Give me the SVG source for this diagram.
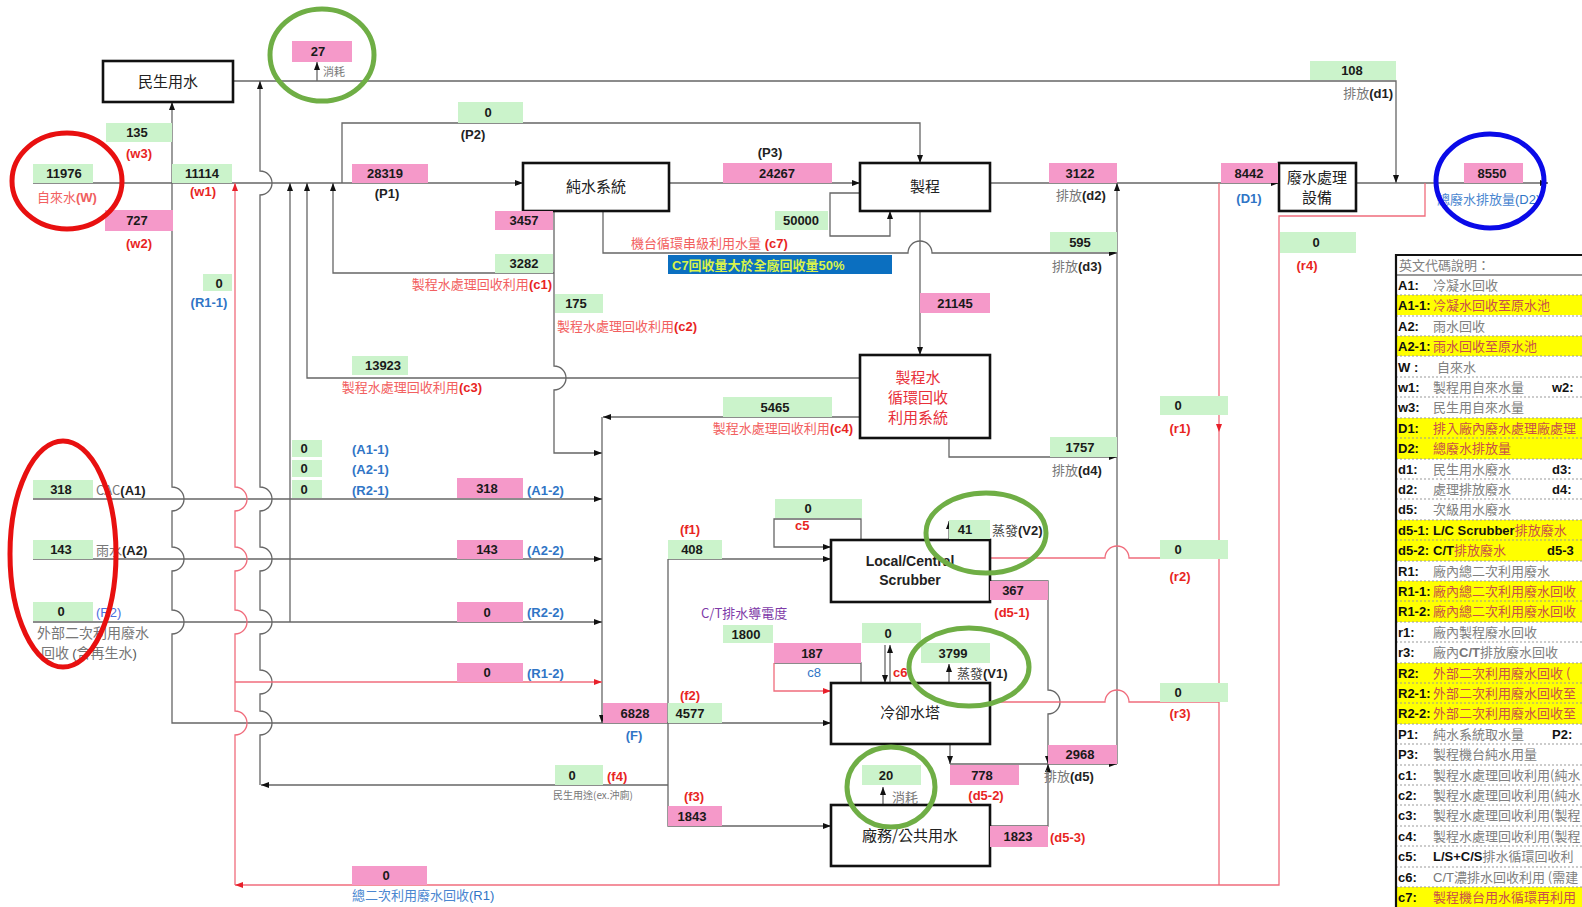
<svg xmlns="http://www.w3.org/2000/svg" width="1582" height="907" viewBox="0 0 1582 907">
<style>
.box{fill:#fff;stroke:#111;stroke-width:2.6}
.g{fill:#CBF3CB}
.p{fill:#F599C9}
.ln{fill:none;stroke:#666;stroke-width:1.3}
.rl{fill:none;stroke:#F06C7C;stroke-width:1.3}
.num{font:bold 13px "Liberation Sans",Arial,sans-serif;fill:#1a1a1a;text-anchor:middle}
.lr{font:bold 13px "Liberation Sans",Arial,sans-serif;fill:#E8251F}
.lb{font:bold 13px "Liberation Sans",Arial,sans-serif;fill:#2F75C6}
.lk{font:bold 13px "Liberation Sans",Arial,sans-serif;fill:#222}
.cj{font:13px "Noto Sans CJK TC",sans-serif;fill:#777}
.cr{font:13px "Noto Sans CJK TC",sans-serif;fill:#F26060}
.cb{font:13px "Noto Sans CJK TC",sans-serif;fill:#4A86D0}
.nt{font:15px "Noto Sans CJK TC",sans-serif;fill:#222;text-anchor:middle}
.ntr{font:15px "Noto Sans CJK TC",sans-serif;fill:#E8303A;text-anchor:middle}
.ntb{font:bold 14px "Liberation Sans",Arial,sans-serif;fill:#222;text-anchor:middle}
.mid{text-anchor:middle}
.end{text-anchor:end}
.lc{font:bold 13px "Liberation Sans",Arial,sans-serif;fill:#111}
.ld{font:13px "Noto Sans CJK TC",sans-serif;fill:#808080}
.ly{font:13px "Noto Sans CJK TC",sans-serif;fill:#C8504A}
.ring{fill:none;stroke-width:5}
</style>
<defs>
<marker id="ah" viewBox="0 0 8 7" refX="8" refY="3.5" markerWidth="8" markerHeight="7" markerUnits="userSpaceOnUse" orient="auto-start-reverse"><path d="M0,0.5 L8,3.5 L0,6.5z" fill="#111"/></marker>
<marker id="ahr" viewBox="0 0 8 7" refX="8" refY="3.5" markerWidth="8" markerHeight="7" markerUnits="userSpaceOnUse" orient="auto-start-reverse"><path d="M0,0.5 L8,3.5 L0,6.5z" fill="#E8202A"/></marker>
</defs>
<rect width="1582" height="907" fill="#fff"/>

<g id="connectors">
<path class="ln" d="M233,81 H1396 V183" marker-end="url(#ah)"/>
<path class="ln" d="M317,81 V62" marker-end="url(#ah)"/>
<path class="ln" d="M33,183 H523" marker-end="url(#ah)"/>
<path class="ln" d="M172,183 V102" marker-end="url(#ah)"/>
<path class="ln" d="M172,183 V487 A12,12 0 0 1 172,511 V547 A12,12 0 0 1 172,571 V610 A12,12 0 0 1 172,634 V723 H831" marker-end="url(#ah)"/>
<path class="ln" d="M260,81 V171 A12,12 0 0 1 260,195 V487 A12,12 0 0 1 260,511 V547 A12,12 0 0 1 260,571 V610 A12,12 0 0 1 260,634 V670 A12,12 0 0 1 260,694 V711 A12,12 0 0 1 260,735 V785" marker-start="url(#ah)"/>
<path class="ln" d="M668,785 H261" marker-end="url(#ah)"/>
<path class="ln" d="M290,183 V622" marker-start="url(#ah)"/>
<path class="ln" d="M307,183 V378 H860" marker-start="url(#ah)"/>
<path class="ln" d="M333,183 V273 H554" marker-start="url(#ah)"/>
<path class="ln" d="M342,183 V123 H920 V163" marker-end="url(#ah)"/>
<path class="ln" d="M554,211 V366 A12,12 0 0 1 554,390 V453 H602" marker-end="url(#ah)"/>
<path class="ln" d="M669,183 H860" marker-end="url(#ah)"/>
<path class="ln" d="M860,193 H830 V236 H890 V211" marker-end="url(#ah)"/>
<path class="ln" d="M603,211 V253 H908 A12,12 0 0 1 932,253 H1117" marker-end="url(#ah)"/>
<path class="ln" d="M920,211 V355" marker-end="url(#ah)"/>
<path class="ln" d="M860,417 H603" marker-end="url(#ah)"/>
<path class="ln" d="M602,417 V723" marker-end="url(#ah)"/>
<path class="ln" d="M33,499 H602" marker-end="url(#ah)"/>
<path class="ln" d="M33,559 H602" marker-end="url(#ah)"/>
<path class="ln" d="M33,622 H602" marker-end="url(#ah)"/>
<path class="rl" d="M235,682 H602" marker-end="url(#ahr)"/>
<path class="rl" d="M235,183 V487 A12,12 0 0 1 235,511 V547 A12,12 0 0 1 235,571 V610 A12,12 0 0 1 235,634 V711 A12,12 0 0 1 235,735 V885" marker-start="url(#ahr)"/>
<path class="rl" d="M1219,885 H235" marker-end="url(#ahr)"/>
<path class="ln" d="M990,183 H1279" marker-end="url(#ah)"/>
<path class="ln" d="M1356,183 H1548" marker-end="url(#ah)"/>
<path class="ln" d="M1117,183 V764" marker-start="url(#ah)"/>
<path class="ln" d="M949,438 V457 H1117" marker-end="url(#ah)"/>
<path class="ln" d="M950,744 V764" marker-end="url(#ah)"/>
<path class="ln" d="M950,764 H1117" marker-end="url(#ah)"/>
<path class="ln" d="M990,581 H1048 V690 A12,12 0 0 1 1048,714 V764" marker-end="url(#ah)"/>
<path class="ln" d="M990,826 H1048 V764" marker-end="url(#ah)"/>
<path class="ln" d="M668,559 H831" marker-end="url(#ah)"/>
<path class="ln" d="M668,559 V826 H831" marker-end="url(#ah)"/>
<path class="ln" d="M861,540 V519 H774 V547 H831" marker-end="url(#ah)"/>
<path class="ln" d="M861,683 V663 H774"/>
<path class="rl" d="M774,663 V691 H831" marker-end="url(#ahr)"/>
<path class="ln" d="M885,645 V683" marker-end="url(#ah)"/>
<path class="ln" d="M890,683 V645" marker-end="url(#ah)"/>
<path class="ln" d="M949,683 V664" marker-end="url(#ah)"/>
<path class="ln" d="M949,540 V521" marker-end="url(#ah)"/>
<path class="ln" d="M883,805 V787" marker-end="url(#ah)"/>
<path class="rl" d="M990,558 H1105 A12,12 0 0 1 1129,558 H1219"/>
<path class="rl" d="M990,702 H1105 A12,12 0 0 1 1129,702 H1219"/>
<path class="rl" d="M1219,183 V432" marker-end="url(#ahr)"/>
<path class="rl" d="M1219,432 V885"/>
<path class="rl" d="M1425,183 V216 H1279 V885 H1219"/>
</g>

<g id="n-minsheng"><rect class="box" x="103" y="61" width="130" height="41"/><text class="nt" x="168" y="87">民生用水</text></g>
<g id="n-pure"><rect class="box" x="523" y="163" width="146" height="48"/><text class="nt" x="596" y="192">純水系統</text></g>
<g id="n-process"><rect class="box" x="860" y="163" width="130" height="48"/><text class="nt" x="925" y="192">製程</text></g>
<g id="n-recycle"><rect class="box" x="860" y="355" width="130" height="83"/><text class="ntr" x="918" y="383">製程水</text><text class="ntr" x="918" y="403">循環回收</text><text class="ntr" x="918" y="423">利用系統</text></g>
<g id="n-scrubber"><rect class="box" x="831" y="540" width="159" height="62"/><text class="ntb" x="910" y="566">Local/Central</text><text class="ntb" x="910" y="585">Scrubber</text></g>
<g id="n-tower"><rect class="box" x="831" y="683" width="159" height="61"/><text class="nt" x="910" y="718">冷卻水塔</text></g>
<g id="n-facility"><rect class="box" x="831" y="805" width="159" height="61"/><text class="nt" x="910" y="841">廠務/公共用水</text></g>
<g id="n-wwt"><rect class="box" x="1279" y="163" width="77" height="48"/><text class="nt" x="1317" y="183">廢水處理</text><text class="nt" x="1317" y="203">設備</text></g>

<g id="values">
<rect class="p" x="292" y="41" width="60" height="21"/><text class="num" x="318" y="56">27</text>
<rect class="p" x="105" y="210" width="68" height="21"/><text class="num" x="137" y="225">727</text>
<rect class="p" x="352" y="164" width="76" height="19"/><text class="num" x="385" y="178">28319</text>
<rect class="p" x="495" y="211" width="58" height="19"/><text class="num" x="524" y="225">3457</text>
<rect class="p" x="723" y="163" width="109" height="20"/><text class="num" x="777" y="178">24267</text>
<rect class="p" x="1049" y="163" width="68" height="20"/><text class="num" x="1080" y="178">3122</text>
<rect class="p" x="920" y="293" width="70" height="20"/><text class="num" x="955" y="308">21145</text>
<rect class="p" x="457" y="478" width="66" height="20"/><text class="num" x="487" y="493">318</text>
<rect class="p" x="457" y="540" width="66" height="19"/><text class="num" x="487" y="554">143</text>
<rect class="p" x="457" y="602" width="66" height="20"/><text class="num" x="487" y="617">0</text>
<rect class="p" x="457" y="663" width="66" height="19"/><text class="num" x="487" y="677">0</text>
<rect class="p" x="990" y="581" width="58" height="19"/><text class="num" x="1013" y="595">367</text>
<rect class="p" x="774" y="643" width="87" height="20"/><text class="num" x="812" y="658">187</text>
<rect class="p" x="603" y="703" width="64" height="20"/><text class="num" x="635" y="718">6828</text>
<rect class="p" x="668" y="806" width="54" height="20"/><text class="num" x="692" y="821">1843</text>
<rect class="p" x="950" y="765" width="69" height="20"/><text class="num" x="982" y="780">778</text>
<rect class="p" x="1048" y="745" width="69" height="19"/><text class="num" x="1080" y="759">2968</text>
<rect class="p" x="990" y="826" width="58" height="21"/><text class="num" x="1018" y="841">1823</text>
<rect class="p" x="352" y="866" width="75" height="19"/><text class="num" x="386" y="880">0</text>
<rect class="p" x="1221" y="163" width="57" height="20"/><text class="num" x="1249" y="178">8442</text>
<rect class="p" x="1464" y="163" width="59" height="20"/><text class="num" x="1492" y="178">8550</text>

<rect class="g" x="106" y="123" width="66" height="19"/><text class="num" x="137" y="137">135</text>
<rect class="g" x="33" y="164" width="60" height="19"/><text class="num" x="64" y="178">11976</text>
<rect class="g" x="172" y="164" width="60" height="19"/><text class="num" x="202" y="178">11114</text>
<rect class="g" x="203" y="274" width="29" height="17"/><text class="num" x="219" y="288">0</text>
<rect class="g" x="458" y="102" width="65" height="21"/><text class="num" x="488" y="117">0</text>
<rect class="g" x="495" y="254" width="58" height="19"/><text class="num" x="524" y="268">3282</text>
<rect class="g" x="555" y="294" width="48" height="19"/><text class="num" x="576" y="308">175</text>
<rect class="g" x="352" y="356" width="56" height="19"/><text class="num" x="383" y="370">13923</text>
<rect class="g" x="775" y="211" width="53" height="19"/><text class="num" x="801" y="225">50000</text>
<rect class="g" x="1050" y="232" width="67" height="20"/><text class="num" x="1080" y="247">595</text>
<rect class="g" x="723" y="397" width="109" height="20"/><text class="num" x="775" y="412">5465</text>
<rect class="g" x="1050" y="437" width="67" height="20"/><text class="num" x="1080" y="452">1757</text>
<rect class="g" x="292" y="440" width="30" height="17"/><text class="num" x="304" y="453">0</text>
<rect class="g" x="292" y="460" width="30" height="17"/><text class="num" x="304" y="473">0</text>
<rect class="g" x="292" y="480" width="30" height="18"/><text class="num" x="304" y="494">0</text>
<rect class="g" x="33" y="480" width="60" height="18"/><text class="num" x="61" y="494">318</text>
<rect class="g" x="33" y="540" width="60" height="19"/><text class="num" x="61" y="554">143</text>
<rect class="g" x="33" y="602" width="60" height="19"/><text class="num" x="61" y="616">0</text>
<rect class="g" x="775" y="499" width="87" height="19"/><text class="num" x="808" y="513">0</text>
<rect class="g" x="668" y="540" width="54" height="19"/><text class="num" x="692" y="554">408</text>
<rect class="g" x="949" y="520" width="41" height="19"/><text class="num" x="965" y="534">41</text>
<rect class="g" x="1160" y="396" width="68" height="19"/><text class="num" x="1178" y="410">0</text>
<rect class="g" x="1160" y="540" width="68" height="19"/><text class="num" x="1178" y="554">0</text>
<rect class="g" x="1160" y="683" width="68" height="19"/><text class="num" x="1178" y="697">0</text>
<rect class="g" x="1280" y="232" width="76" height="21"/><text class="num" x="1316" y="247">0</text>
<rect class="g" x="723" y="625" width="50" height="18"/><text class="num" x="746" y="639">1800</text>
<rect class="g" x="862" y="623" width="59" height="20"/><text class="num" x="888" y="638">0</text>
<rect class="g" x="921" y="643" width="69" height="20"/><text class="num" x="953" y="658">3799</text>
<rect class="g" x="668" y="703" width="54" height="20"/><text class="num" x="690" y="718">4577</text>
<rect class="g" x="555" y="765" width="48" height="20"/><text class="num" x="572" y="780">0</text>
<rect class="g" x="862" y="765" width="59" height="20"/><text class="num" x="886" y="780">20</text>
<rect class="g" x="1310" y="61" width="86" height="19"/><text class="num" x="1352" y="75">108</text>
</g>

<g id="labels">
<text class="cj" x="323" y="76" style="font-size:11px">消耗</text>
<text class="lr mid" x="139" y="158">(w3)</text>
<text x="37" y="202"><tspan class="cr">自來水</tspan><tspan class="lr" style="fill:#F06060">(W)</tspan></text>
<text class="lr mid" x="203" y="196">(w1)</text>
<text class="lr mid" x="139" y="248">(w2)</text>
<text class="lb mid" x="209" y="307">(R1-1)</text>
<text class="lk mid" x="387" y="198">(P1)</text>
<text class="lk mid" x="473" y="139">(P2)</text>
<text class="lk mid" x="770" y="157">(P3)</text>
<text x="1056" y="200"><tspan class="cj">排放</tspan><tspan class="lk">(d2)</tspan></text>
<text x="1052" y="271"><tspan class="cj">排放</tspan><tspan class="lk">(d3)</tspan></text>
<text x="1052" y="475"><tspan class="cj">排放</tspan><tspan class="lk">(d4)</tspan></text>
<text x="1044" y="781"><tspan class="cj">排放</tspan><tspan class="lk">(d5)</tspan></text>
<text class="end" x="1393" y="98"><tspan class="cj">排放</tspan><tspan class="lk">(d1)</tspan></text>
<text class="lb mid" x="1249" y="203">(D1)</text>
<text x="1437" y="204"><tspan class="cb">總廢水排放量</tspan><tspan class="lb" style="font-weight:normal">(D2)</tspan></text>
<text class="end" x="552" y="289"><tspan class="cr">製程水處理回收利用</tspan><tspan class="lr">(c1)</tspan></text>
<text x="557" y="331"><tspan class="cr">製程水處理回收利用</tspan><tspan class="lr">(c2)</tspan></text>
<text class="end" x="482" y="392"><tspan class="cr">製程水處理回收利用</tspan><tspan class="lr">(c3)</tspan></text>
<text class="end" x="853" y="433"><tspan class="cr">製程水處理回收利用</tspan><tspan class="lr">(c4)</tspan></text>
<text x="631" y="248"><tspan class="cr">機台循環串級利用水量</tspan><tspan class="lr"> (c7)</tspan></text>
<rect x="668" y="255" width="224" height="19" fill="#0B6FC0"/>
<text x="672" y="270" style="font:bold 13px 'Liberation Sans','Noto Sans CJK TC',sans-serif;fill:#D8F24A">C7回收量大於全廠回收量50%</text>
<text class="lb" x="352" y="454">(A1-1)</text>
<text class="lb" x="352" y="474">(A2-1)</text>
<text class="lb" x="352" y="495">(R2-1)</text>
<text x="96" y="495"><tspan class="cj">CAC</tspan><tspan class="lk">(A1)</tspan></text>
<text x="96" y="555"><tspan class="cj">雨水</tspan><tspan class="lk">(A2)</tspan></text>
<text class="lb" x="96" y="617" style="fill:#4A6FE0;font-weight:normal">(R2)</text>
<text class="cj" x="37" y="638" style="font-size:14px">外部二次利用廢水</text>
<text x="41" y="658"><tspan class="cj" style="font-size:14px">回收 </tspan><tspan class="lk" style="font-weight:normal;fill:#555">(</tspan><tspan class="cj" style="font-size:14px">含再生水</tspan><tspan class="lk" style="font-weight:normal;fill:#555">)</tspan></text>
<text class="lb" x="527" y="495">(A1-2)</text>
<text class="lb" x="527" y="555">(A2-2)</text>
<text class="lb" x="527" y="617">(R2-2)</text>
<text class="lb" x="527" y="678">(R1-2)</text>
<text class="lr mid" x="690" y="534">(f1)</text>
<text class="lr" x="795" y="530">c5</text>
<text x="992" y="535"><tspan class="cj" style="fill:#444">蒸發</tspan><tspan class="lk">(V2)</tspan></text>
<text class="lr mid" x="1012" y="617">(d5-1)</text>
<text class="lr mid" x="1180" y="433">(r1)</text>
<text class="lr mid" x="1180" y="581">(r2)</text>
<text class="lr mid" x="1180" y="718">(r3)</text>
<text class="lr mid" x="1307" y="270">(r4)</text>
<text x="701" y="618"><tspan class="cj" style="fill:#7E3AA8">C/T排水導電度</tspan></text>
<text class="lb mid" x="814" y="677" style="font-weight:normal">c8</text>
<text class="lr" x="893" y="677">c6</text>
<text x="957" y="678"><tspan class="cj" style="fill:#444">蒸發</tspan><tspan class="lk">(V1)</tspan></text>
<text class="lr mid" x="690" y="700">(f2)</text>
<text class="lb mid" x="634" y="740">(F)</text>
<text class="lr" x="607" y="781">(f4)</text>
<text class="cj" x="553" y="799" style="font-size:10px">民生用途(ex.沖廁)</text>
<text class="lr mid" x="694" y="801">(f3)</text>
<text class="cj" x="892" y="802">消耗</text>
<text class="lr mid" x="986" y="800">(d5-2)</text>
<text class="lr" x="1050" y="842">(d5-3)</text>
<text x="352" y="900"><tspan class="cb">總二次利用廢水回收</tspan><tspan class="lb" style="font-weight:normal">(R1)</tspan></text>
</g>

<g id="legend">
<rect x="1396" y="295" width="186" height="20" fill="#FFFF00"/>
<rect x="1396" y="336" width="186" height="20" fill="#FFFF00"/>
<rect x="1396" y="418" width="186" height="41" fill="#FFFF00"/>
<rect x="1396" y="520" width="186" height="41" fill="#FFFF00"/>
<rect x="1396" y="581" width="186" height="41" fill="#FFFF00"/>
<rect x="1396" y="663" width="186" height="61" fill="#FFFF00"/>
<rect x="1396" y="887" width="186" height="20" fill="#FFFF00"/>
<g stroke="#999" stroke-width="1" stroke-dasharray="2,2">
<path d="M1396,295H1582M1396,316H1582M1396,336H1582M1396,356H1582M1396,377H1582M1396,397H1582M1396,418H1582M1396,438H1582M1396,459H1582M1396,479H1582M1396,499H1582M1396,520H1582M1396,540H1582M1396,561H1582M1396,581H1582M1396,601H1582M1396,622H1582M1396,642H1582M1396,663H1582M1396,683H1582M1396,703H1582M1396,724H1582M1396,744H1582M1396,765H1582M1396,785H1582M1396,805H1582M1396,826H1582M1396,846H1582M1396,867H1582M1396,887H1582"/>
</g>
<path d="M1396,275H1582" stroke="#333" stroke-width="1"/>
<path d="M1396,907V255H1582" fill="none" stroke="#111" stroke-width="2.2"/>
<text class="ld" x="1399" y="270">英文代碼說明：</text>
<text class="lc" x="1398" y="290">A1:</text><text class="ld" x="1433" y="290">冷凝水回收</text>
<text class="lc" x="1398" y="310">A1-1:</text><text class="ly" x="1433" y="310">冷凝水回收至原水池</text>
<text class="lc" x="1398" y="331">A2:</text><text class="ld" x="1433" y="331">雨水回收</text>
<text class="lc" x="1398" y="351">A2-1:</text><text class="ly" x="1433" y="351">雨水回收至原水池</text>
<text class="lc" x="1398" y="372">W :</text><text class="ld" x="1437" y="372">自來水</text>
<text class="lc" x="1398" y="392">w1:</text><text class="ld" x="1433" y="392">製程用自來水量</text><text class="lc" x="1552" y="392">w2:</text>
<text class="lc" x="1398" y="412">w3:</text><text class="ld" x="1433" y="412">民生用自來水量</text>
<text class="lc" x="1398" y="433">D1:</text><text class="ly" x="1433" y="433">排入廠內廢水處理廠處理</text>
<text class="lc" x="1398" y="453">D2:</text><text class="ly" x="1433" y="453">總廢水排放量</text>
<text class="lc" x="1398" y="474">d1:</text><text class="ld" x="1433" y="474">民生用水廢水</text><text class="lc" x="1552" y="474">d3:</text>
<text class="lc" x="1398" y="494">d2:</text><text class="ld" x="1433" y="494">處理排放廢水</text><text class="lc" x="1552" y="494">d4:</text>
<text class="lc" x="1398" y="514">d5:</text><text class="ld" x="1433" y="514">次級用水廢水</text>
<text class="lc" x="1398" y="535">d5-1:</text><text x="1433" y="535"><tspan class="lc">L/C Scrubber</tspan><tspan class="ly">排放廢水</tspan></text>
<text class="lc" x="1398" y="555">d5-2:</text><text x="1433" y="555"><tspan class="lc">C/T</tspan><tspan class="ly">排放廢水</tspan></text><text class="lc" x="1547" y="555">d5-3</text>
<text class="lc" x="1398" y="576">R1:</text><text class="ld" x="1433" y="576">廠內總二次利用廢水</text>
<text class="lc" x="1398" y="596">R1-1:</text><text class="ly" x="1433" y="596">廠內總二次利用廢水回收</text>
<text class="lc" x="1398" y="616">R1-2:</text><text class="ly" x="1433" y="616">廠內總二次利用廢水回收</text>
<text class="lc" x="1398" y="637">r1:</text><text class="ld" x="1433" y="637">廠內製程廢水回收</text>
<text class="lc" x="1398" y="657">r3:</text><text x="1433" y="657"><tspan class="ld">廠內</tspan><tspan class="lc" style="fill:#777">C/T</tspan><tspan class="ld">排放廢水回收</tspan></text>
<text class="lc" x="1398" y="678">R2:</text><text class="ly" x="1433" y="678">外部二次利用廢水回收 (</text>
<text class="lc" x="1398" y="698">R2-1:</text><text class="ly" x="1433" y="698">外部二次利用廢水回收至</text>
<text class="lc" x="1398" y="718">R2-2:</text><text class="ly" x="1433" y="718">外部二次利用廢水回收至</text>
<text class="lc" x="1398" y="739">P1:</text><text class="ld" x="1433" y="739">純水系統取水量</text><text class="lc" x="1552" y="739">P2:</text>
<text class="lc" x="1398" y="759">P3:</text><text class="ld" x="1433" y="759">製程機台純水用量</text>
<text class="lc" x="1398" y="780">c1:</text><text class="ld" x="1433" y="780">製程水處理回收利用(純水</text>
<text class="lc" x="1398" y="800">c2:</text><text class="ld" x="1433" y="800">製程水處理回收利用(純水</text>
<text class="lc" x="1398" y="820">c3:</text><text class="ld" x="1433" y="820">製程水處理回收利用(製程</text>
<text class="lc" x="1398" y="841">c4:</text><text class="ld" x="1433" y="841">製程水處理回收利用(製程</text>
<text class="lc" x="1398" y="861">c5:</text><text x="1433" y="861"><tspan class="lc">L/S+C/S</tspan><tspan class="ld">排水循環回收利</tspan></text>
<text class="lc" x="1398" y="882">c6:</text><text x="1433" y="882"><tspan class="lc" style="font-weight:normal;fill:#777">C/T</tspan><tspan class="ld">濃排水回收利用 (需建</tspan></text>
<text class="lc" x="1398" y="902">c7:</text><text class="ly" x="1433" y="902">製程機台用水循環再利用</text>
</g>

<g id="highlights">
<ellipse class="ring" cx="67" cy="181" rx="55" ry="48" stroke="#E81010"/>
<ellipse class="ring" cx="63" cy="554" rx="53" ry="113" stroke="#E81010"/>
<ellipse class="ring" cx="322" cy="55" rx="52" ry="46" stroke="#6FAE45"/>
<ellipse class="ring" cx="986" cy="533" rx="60" ry="40" stroke="#6FAE45"/>
<ellipse class="ring" cx="969" cy="667" rx="60" ry="39" stroke="#6FAE45"/>
<ellipse class="ring" cx="891" cy="787" rx="44" ry="40" stroke="#6FAE45"/>
<ellipse class="ring" cx="1490" cy="181" rx="54" ry="47" stroke="#0A0AE8"/>
</g>
</svg>
